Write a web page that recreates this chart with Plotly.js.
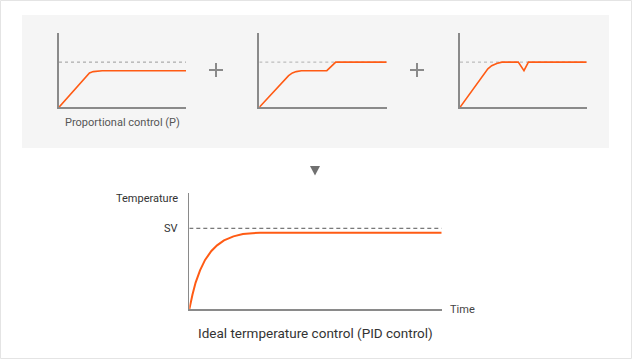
<!DOCTYPE html>
<html>
<head>
<meta charset="utf-8">
<script src="https://cdn.plot.ly/plotly-3.0.1.min.js"></script>
<style>html,body{margin:0;padding:0;background:#fff;}#chart{width:632px;height:359px;}</style>
</head>
<body>
<div id="chart"></div>
<script>
// ---- Data ----
const SV = 1.0;
// Panel 1: proportional control (P)
const timeP = [0, 2.0, 2.4, 2.7, 3.0, 3.4, 10];
const tempP = [0, 0.65, 0.76, 0.79, 0.805, 0.81, 0.81];
// Panel 2: integral action removes offset
const timeI = [0, 2.0, 2.3, 2.6, 2.9, 3.3, 5.3, 6.0, 10];
const tempI = [0, 0.63, 0.70, 0.76, 0.79, 0.81, 0.81, 1.0, 1.0];
// Panel 3: derivative action handles disturbance
const timeD = [0, 1.9, 2.2, 2.5, 2.9, 3.3, 4.6, 5.05, 5.4, 10];
const tempD = [0, 0.75, 0.85, 0.92, 0.97, 1.0, 1.0, 0.81, 1.0, 1.0];
// Ideal PID control
const timePID = [0, 0.1, 0.25, 0.5, 0.85, 1.25, 1.75, 2.2, 2.75, 3.5, 4.25, 5.0, 5.6, 20];
const tempPID = [0, 0.075, 0.18, 0.33, 0.48, 0.61, 0.72, 0.79, 0.85, 0.90, 0.93, 0.94, 0.946, 0.946];
const smallRange = [0, 10];
const bigRange = [0, 20];

const labelP = "Proportional control (P)";
const captionPID = "Ideal termperature control (PID control)";
const yTitle = "Temperature";
const xTitle = "Time";
const svLabel = "SV";

// ---- Styling ----
const W = 632, H = 359;
const px = v => v / W;
const py = v => 1 - v / H;
const ORANGE = "#ff5b14";
const AX = "#8a8a8a";
const FONT = "Roboto, 'Noto Sans', Arial, sans-serif";

function svTrace(range, xa, ya, dash, color) {
  return {x: range, y: [SV, SV], xaxis: xa, yaxis: ya, mode: "lines",
    line: {color: color, width: 1, dash: dash}, hoverinfo: "skip"};
}
function curve(x, y, xa, ya, w) {
  return {x: x, y: y, xaxis: xa, yaxis: ya, mode: "lines",
    line: {color: ORANGE, width: w}, hoverinfo: "skip"};
}

const traces = [
  svTrace(smallRange, "x", "y", "dot", "#9a9a9a"),
  curve(timeP, tempP, "x", "y", 1.6),
  svTrace(smallRange, "x2", "y2", "dot", "#b0b0b0"),
  curve(timeI, tempI, "x2", "y2", 1.6),
  svTrace(smallRange, "x3", "y3", "dot", "#b0b0b0"),
  curve(timeD, tempD, "x3", "y3", 1.6),
  svTrace(bigRange, "x4", "y4", "4px,3px", "#555555"),
  curve(timePID, tempPID, "x4", "y4", 2)
];

function xax(dom, range, anchor, w) {
  return {domain: dom, range: range, anchor: anchor, showgrid: false, zeroline: false,
    showticklabels: false, ticks: "", showline: true, linecolor: AX, linewidth: w, fixedrange: true};
}
function yax(dom, range, anchor, w) {
  return {domain: dom, range: range, anchor: anchor, showgrid: false, zeroline: false,
    showticklabels: false, ticks: "", showline: true, linecolor: AX, linewidth: w, fixedrange: true};
}
const smallY = [py(107.3), py(33)];
const smallYR = [0, 1.644];
const layout = {
  width: W, height: H,
  margin: {l: 0, r: 0, t: 0, b: 0},
  paper_bgcolor: "#ffffff",
  plot_bgcolor: "rgba(0,0,0,0)",
  showlegend: false,
  font: {family: FONT, color: "#444"},
  xaxis: xax([px(59), px(186)], smallRange, "y", 2),
  yaxis: yax(smallY, smallYR, "x", 2),
  xaxis2: xax([px(259.3), px(386.7)], smallRange, "y2", 2),
  yaxis2: yax(smallY, smallYR, "x2", 2),
  xaxis3: xax([px(460), px(586.7)], smallRange, "y3", 2),
  yaxis3: yax(smallY, smallYR, "x3", 2),
  xaxis4: xax([px(189.3), px(441.7)], bigRange, "y4", 1.5),
  yaxis4: yax([py(309.3), py(193.3)], [0, 1.432], "x4", 1.5),
  shapes: [
    {type: "rect", xref: "paper", yref: "paper", x0: px(0.5), x1: px(631.5), y0: py(358.5), y1: py(0.5),
      line: {color: "#e4e4e4", width: 1}, fillcolor: "rgba(0,0,0,0)", layer: "below"},
    {type: "rect", xref: "paper", yref: "paper", x0: px(22), x1: px(609), y0: py(148), y1: py(15),
      line: {width: 0}, fillcolor: "#f5f5f5", layer: "below"},
    {type: "line", xref: "paper", yref: "paper", x0: px(209), x1: px(223), y0: py(70), y1: py(70), line: {color: "#8a8a8a", width: 2}},
    {type: "line", xref: "paper", yref: "paper", x0: px(216), x1: px(216), y0: py(63), y1: py(77), line: {color: "#8a8a8a", width: 2}},
    {type: "line", xref: "paper", yref: "paper", x0: px(410), x1: px(424), y0: py(70), y1: py(70), line: {color: "#8a8a8a", width: 2}},
    {type: "line", xref: "paper", yref: "paper", x0: px(417), x1: px(417), y0: py(63), y1: py(77), line: {color: "#8a8a8a", width: 2}},
    {type: "path", xref: "paper", yref: "paper",
      path: `M ${px(310)} ${py(166)} L ${px(320)} ${py(166)} L ${px(315)} ${py(175.5)} Z`,
      fillcolor: "#707070", line: {width: 0}}
  ],
  annotations: [
    {text: labelP, xref: "paper", yref: "paper", x: px(122.5), y: py(122.5), xanchor: "center", yanchor: "middle",
      showarrow: false, font: {size: 11, color: "#555", family: FONT}},
    {text: captionPID, xref: "paper", yref: "paper", x: px(315), y: py(333), xanchor: "center", yanchor: "middle",
      showarrow: false, font: {size: 13.5, color: "#333", family: FONT}},
    {text: yTitle, xref: "paper", yref: "paper", x: px(180), y: py(198), xanchor: "right", yanchor: "middle",
      showarrow: false, font: {size: 11, color: "#333", family: FONT}},
    {text: svLabel, xref: "paper", yref: "y4", x: px(180), y: SV, xanchor: "right", yanchor: "middle",
      showarrow: false, font: {size: 11, color: "#333", family: FONT}},
    {text: xTitle, xref: "paper", yref: "paper", x: px(448), y: py(309), xanchor: "left", yanchor: "middle",
      showarrow: false, font: {size: 11, color: "#444", family: FONT}}
  ]
};
Plotly.newPlot("chart", traces, layout, {staticPlot: true, displayModeBar: false});
</script>
</body>
</html>
